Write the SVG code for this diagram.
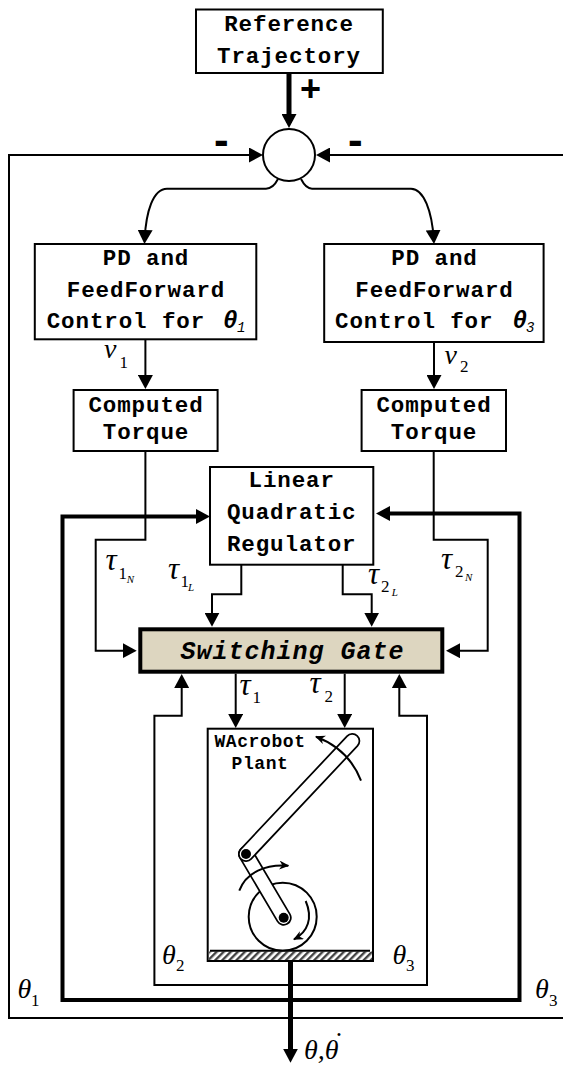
<svg xmlns="http://www.w3.org/2000/svg" width="563" height="1066" viewBox="0 0 563 1066">
<style>
.box{fill:#fff;stroke:#000;stroke-width:2}
.t{font-family:"Liberation Mono","Courier New",monospace;font-weight:bold;font-size:22.500px;letter-spacing:0.900px;text-anchor:middle;fill:#000}
.th{font-family:"Liberation Mono","Courier New",monospace;font-weight:bold;font-style:italic;font-size:24px;fill:#000}
.ths{font-family:"Liberation Mono","Courier New",monospace;font-style:italic;font-size:14px;fill:#000}
.m{font-family:"Liberation Serif","Times New Roman",serif;font-style:italic;font-size:28px;fill:#000}
.n{font-size:31px}
.s{font-family:"Liberation Serif","Times New Roman",serif;font-size:17px;fill:#000}
.ss{font-family:"Liberation Serif","Times New Roman",serif;font-style:italic;font-size:11px;fill:#000}
.c{fill:none;stroke:#000;stroke-width:2}
.a{marker-end:url(#h)}
.k{stroke-width:5}
.k4{stroke-width:4}
.sg{font-family:"Liberation Sans",Arial,sans-serif;font-weight:bold;fill:#000}
</style>
<defs>
<marker id="h" viewBox="0 0 14 15" refX="9" refY="7.5" markerWidth="14" markerHeight="15" markerUnits="userSpaceOnUse" orient="auto"><path d="M0,0L14,7.5L0,15Z" fill="#000"/></marker>
<marker id="sm" viewBox="0 0 10 9" refX="9" refY="4.5" markerWidth="10" markerHeight="9" markerUnits="userSpaceOnUse" orient="auto"><path d="M0,0L10,4.5L0,9L3,4.5Z" fill="#000"/></marker>
<pattern id="hatch" patternUnits="userSpaceOnUse" width="5" height="5" patternTransform="rotate(45)"><rect width="5" height="5" fill="#fff"/><rect width="2.400" height="5" fill="#444"/></pattern>
</defs>
<g id="connectors">
<path class="c k a" d="M289,73V123"/>
<path class="c a" d="M563,1018H9V155H258"/>
<path class="c a" d="M563,155H321"/>
<path class="c a" d="M278,179Q273,188.700 266,188.700H167C153,188.700 146,212 144.700,239"/>
<path class="c a" d="M301,179Q306,188.700 312,188.700H411C424,188.700 432,212 433.700,239"/>
<path class="c a" d="M145.400,339V384"/>
<path class="c a" d="M434,342V384"/>
<path class="c a" d="M145.400,451V539.700H95.700V650.700H131.700"/>
<path class="c a" d="M433.700,451V539.700H487.700V650.700H451"/>
<path class="c k4 a" d="M291,1000H62.500V516.500H205"/>
<path class="c k4 a" d="M291,1000H519.500V513.500H381"/>
<path class="c a" d="M241.300,564.700V594.300H212V621.700"/>
<path class="c a" d="M342.700,564.700V594.300H371.700V621.700"/>
<path class="c a" d="M235.700,673.700V723"/>
<path class="c a" d="M344.700,673.700V723"/>
<path class="c a" d="M290,985H154.400V715.700H181.700V679"/>
<path class="c a" d="M290,985H427V715.700H399.300V679"/>
<path class="c k a" d="M290.500,961V1057.700"/>
</g>
<g id="reference"><rect class="box" x="196" y="9.500" width="186.800" height="63.500"/><text class="t" x="289" y="31">Reference</text><text class="t" x="289" y="63">Trajectory</text></g>
<g id="sum"><ellipse class="box" cx="289" cy="155" rx="26" ry="26"/></g>
<g id="signs"><text class="sg" x="300" y="101" font-size="36">+</text><text class="sg" x="214" y="155" font-size="44">-</text><text class="sg" x="348" y="155" font-size="44">-</text></g>
<g id="pd1"><rect class="box" x="34.800" y="244" width="221.500" height="95.300"/><text class="t" x="146" y="265">PD and</text><text class="t" x="146" y="297">FeedForward</text><text class="t" x="46.700" y="328" style="text-anchor:start">Control for</text><text class="th" x="223" y="328">θ</text><text class="ths" x="237" y="332">1</text></g>
<g id="pd2"><rect class="box" x="324.200" y="244" width="219.400" height="98"/><text class="t" x="434.500" y="265">PD and</text><text class="t" x="434.500" y="297">FeedForward</text><text class="t" x="335" y="328" style="text-anchor:start">Control for</text><text class="th" x="512.500" y="328">θ</text><text class="ths" x="526" y="332">3</text></g>
<g id="ct1"><rect class="box" x="73.600" y="390" width="144" height="61"/><text class="t" x="146" y="411.700">Computed</text><text class="t" x="146" y="439">Torque</text></g>
<g id="ct2"><rect class="box" x="361.600" y="390" width="144.400" height="61"/><text class="t" x="434" y="411.700">Computed</text><text class="t" x="434" y="439">Torque</text></g>
<g id="lqr"><rect class="box" x="210" y="467" width="163.300" height="97.700"/><text class="t" x="291.700" y="487">Linear</text><text class="t" x="291.700" y="519">Quadratic</text><text class="t" x="291.700" y="550.700">Regulator</text></g>
<g id="gate"><rect x="140.300" y="629.300" width="302" height="42.400" fill="#ddd6c0" stroke="#000" stroke-width="4"/><text class="t" x="292.500" y="659.300" style="font-size:25px;letter-spacing:1px;font-style:italic">Switching Gate</text></g>
<g id="plant">
<rect class="box" x="207.700" y="728.700" width="165.300" height="232.300"/>
<text class="t" x="260" y="747.300" style="font-size:18px;letter-spacing:0.600px">WAcrobot</text>
<text class="t" x="260" y="769" style="font-size:18px;letter-spacing:0.600px">Plant</text>
<circle cx="282.700" cy="916.700" r="34" fill="#fff" stroke="#000" stroke-width="2"/>
<path d="M246,854L283.700,917.700" stroke="#000" stroke-width="16" stroke-linecap="round"/>
<path d="M246,854L283.700,917.700" stroke="#fff" stroke-width="12.500" stroke-linecap="round"/>
<path d="M246,854L352.300,741" stroke="#000" stroke-width="16" stroke-linecap="round"/>
<path d="M246,854L352.300,741" stroke="#fff" stroke-width="12.500" stroke-linecap="round"/>
<circle cx="246" cy="854" r="5" fill="#000"/>
<circle cx="283.700" cy="917.700" r="5" fill="#000"/>
<path class="c" marker-end="url(#sm)" d="M361,780.700C353,760 338,745 316,736.700"/>
<path class="c" marker-end="url(#sm)" d="M239.300,890.700C246,872 266,864 288.300,865.700"/>
<path class="c" marker-end="url(#sm)" d="M305.700,901C313,918 308,932 294,939.300"/>
<rect x="209" y="951.500" width="163" height="8.500" fill="url(#hatch)"/>
<path class="c" d="M210,950.700H370"/>
</g>
<g id="labels">
<text class="m" x="104" y="358">ν</text><text class="s" x="119.500" y="367.700">1</text>
<text class="m" x="444.500" y="364">ν</text><text class="s" x="460" y="371.700">2</text>
<text class="m n" x="105.500" y="570">τ</text><text class="s" x="118.500" y="578.700">1</text><text class="ss" x="126.700" y="582.700">N</text>
<text class="m n" x="168" y="578.700">τ</text><text class="s" x="180.500" y="587">1</text><text class="ss" x="188" y="591.300">L</text>
<text class="m n" x="368" y="584">τ</text><text class="s" x="381" y="592">2</text><text class="ss" x="391.700" y="596">L</text>
<text class="m n" x="441" y="569">τ</text><text class="s" x="455" y="577.300">2</text><text class="ss" x="465" y="581">N</text>
<text class="m n" x="239.500" y="695">τ</text><text class="s" x="252.500" y="703">1</text>
<text class="m n" x="309.500" y="693">τ</text><text class="s" x="324.500" y="701.700">2</text>
<text class="m" x="162" y="964.300">θ</text><text class="s" x="176" y="970.700">2</text>
<text class="m" x="392.500" y="964.300">θ</text><text class="s" x="406" y="971">3</text>
<text class="m" x="17.500" y="998">θ</text><text class="s" x="31" y="1005.700">1</text>
<text class="m" x="535" y="998">θ</text><text class="s" x="549" y="1005.700">3</text>
<text class="m" x="304" y="1059.300">θ,θ<tspan dx="-6" dy="-8">˙</tspan></text>
</g>
</svg>
